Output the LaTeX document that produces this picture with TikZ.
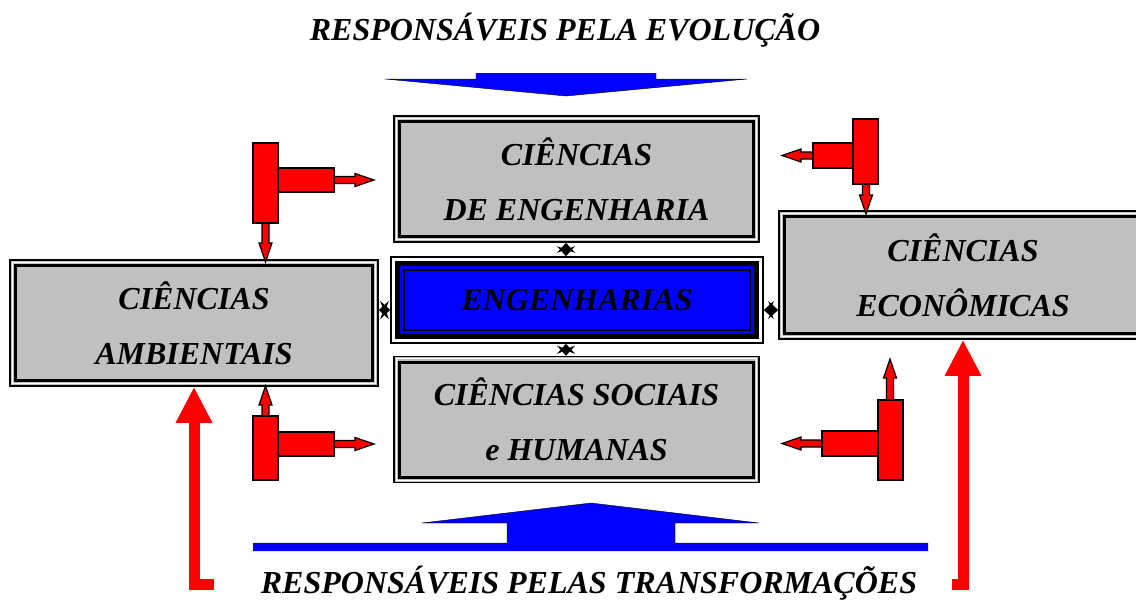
\documentclass[tikz,border=0pt]{standalone}
\usepackage{fontspec}
\setmainfont{Liberation Serif}
\usetikzlibrary{arrows.meta,calc}
\definecolor{boxgray}{HTML}{C0C0C0}
\definecolor{engblue}{HTML}{0000FF}
\definecolor{flowred}{HTML}{FF0000}
% small red block arrow: start point, direction, length
\newcommand{\redarrow}[3]{%
    \filldraw[redpart, shift={#1}, rotate=#2]
    (0,-3.5) -- (#3-19,-3.5) -- (#3-19,-6.5) -- (#3,0) -- (#3-19,6.5) -- (#3-19,3.5) -- (0,3.5) -- cycle;}

\begin{document}
\begin{tikzpicture}[
    x=1pt, y=-1pt,
    every node/.style={
        font=\bfseries\itshape\fontsize{32}{55}\selectfont,
    },
    scibox/.style={
        draw, line width=1.5pt, fill=boxgray, align=center, inner sep=0pt,
        minimum width=365pt, minimum height=126pt,
        path picture={
            \draw[white, line width=1.2pt]
            ($(path picture bounding box.south west)+(2.2pt,2.2pt)$) rectangle
            ($(path picture bounding box.north east)+(-2.2pt,-2.2pt)$);
            \draw[line width=3pt]
            ($(path picture bounding box.south west)+(5.5pt,5.5pt)$) rectangle
            ($(path picture bounding box.north east)+(-5.5pt,-5.5pt)$);
        },
    },
    engbox/.style={
        draw, line width=1.5pt, fill=white, align=center, inner sep=0pt,
        minimum width=372pt, minimum height=86pt,
        path picture={
            \filldraw[fill=engblue, line width=5pt]
            ($(path picture bounding box.south west)+(6.5pt,6.5pt)$) rectangle
            ($(path picture bounding box.north east)+(-6.5pt,-6.5pt)$);
            \draw[line width=2pt]
            ($(path picture bounding box.south west)+(13pt,13pt)$) rectangle
            ($(path picture bounding box.north east)+(-13pt,-13pt)$);
        },
    },
    link/.style={line width=2pt, -{Stealth[length=10pt,width=18pt]}},
    redpart/.style={fill=flowred, draw=black, line width=1.2pt},
    bluepart/.style={fill=engblue},
    bigred/.style={draw=flowred, line width=11pt, -{Triangle[length=36pt,width=34pt]}},
]
    \useasboundingbox (0,0) rectangle (1136,614);

    % titles
    \node[anchor=base] (evol) at (565,40) {RESPONSÁVEIS PELA EVOLUÇÃO};
    \node[anchor=base] (transf) at (589,593) {RESPONSÁVEIS PELAS TRANSFORMAÇÕES};

    % boxes
    \node[scibox] (eng) at (576.5,179) {CIÊNCIAS\\DE ENGENHARIA};
    \node[engbox] (engs) at (577,300) {ENGENHARIAS};
    \node[scibox] (soc) at (576.5,419.5) {CIÊNCIAS SOCIAIS\\e HUMANAS};
    \node[scibox, minimum width=368pt] (amb) at (194,323) {CIÊNCIAS\\AMBIENTAIS};
    \node[scibox, minimum width=368pt, minimum height=128pt] (eco) at (963,275) {CIÊNCIAS\\ECONÔMICAS};

    % links to the centre
    \coordinate (hub) at (566,310);
    \coordinate (up) at ($(eng.south -| hub)!0.5!(engs.north -| hub)$);
    \coordinate (down) at ($(engs.south -| hub)!0.5!(soc.north -| hub)$);
    \coordinate (left) at ($(amb.east |- hub)!0.5!(engs.west |- hub)$);
    \coordinate (right) at ($(engs.east |- hub)!0.5!(eco.west |- hub)$);
    \draw[link] (up) -- (eng.south -| hub);
    \draw[link] (up) -- (engs.north -| hub);
    \draw[link] (down) -- (engs.south -| hub);
    \draw[link] (down) -- (soc.north -| hub);
    \draw[link] (left) -- (amb.east |- hub);
    \draw[link] (left) -- (engs.west |- hub);
    \draw[link] (right) -- (engs.east |- hub);
    \draw[link] (right) -- (eco.west |- hub);

    % big blue arrows
    \fill[bluepart] (476,73) -- (656,73) -- (656,79) -- (747,79) -- (566,96) -- (385,79) -- (476,79) -- cycle;
    \draw (476,73) -- (476,79) -- (385,79) -- (566,96) -- (747,79) -- (656,79) -- (656,73);
    \fill[bluepart] (253,551) -- (253,543) -- (507,543) -- (507,523) -- (422,523) -- (591,503)
        -- (759,523) -- (675,523) -- (675,543) -- (928,543) -- (928,551) -- cycle;
    \draw (253,543) -- (507,543) -- (507,523) -- (422,523) -- (591,503)
        -- (759,523) -- (675,523) -- (675,543) -- (928,543);

    % red flows from the bottom
    \draw[bigred] (214,584) -| (amb.south);
    \draw[bigred] (952,584) -| (eco.south);

    % red T pieces
    \redarrow{(334,180)}{0}{40}
    \redarrow{(265.5,223)}{-90}{39}
    \filldraw[redpart] (253,143) rectangle (278,223);
    \filldraw[redpart] (278,168) rectangle (334,192);

    \redarrow{(813,155.5)}{180}{31}
    \redarrow{(866,184)}{-90}{30}
    \filldraw[redpart] (853,119) rectangle (878,184);
    \filldraw[redpart] (813,143) rectangle (853,168);

    \redarrow{(334,444)}{0}{40}
    \redarrow{(265.5,416)}{90}{30}
    \filldraw[redpart] (253,416) rectangle (278,480);
    \filldraw[redpart] (278,432) rectangle (334,456);

    \redarrow{(822,443.5)}{180}{40}
    \redarrow{(890,400)}{90}{41}
    \filldraw[redpart] (878,400) rectangle (903,480);
    \filldraw[redpart] (822,431) rectangle (878,456);
\end{tikzpicture}
\end{document}
